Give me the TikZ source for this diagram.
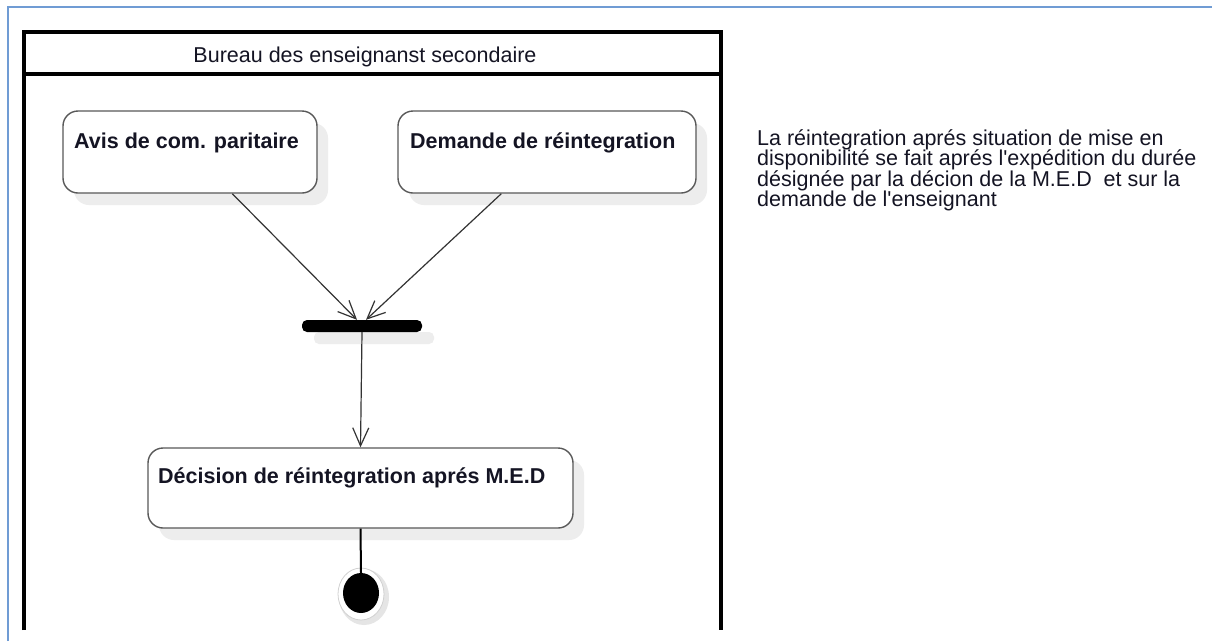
\documentclass[tikz,border=0pt]{standalone}
\usepackage{fontspec}
\setmainfont{Liberation Sans}[Ligatures=TeXOff]
\usetikzlibrary{arrows.meta,shadows,shapes.geometric,calc}
\definecolor{frameblue}{RGB}{112,156,212}
\definecolor{txt}{RGB}{20,20,35}
\begin{document}
\begin{tikzpicture}[x=1pt,y=-1pt,
  act/.style={draw=black!65, line width=1.4pt, rounded corners=15pt, fill=white, inner sep=0pt,
    drop shadow={shadow xshift=11pt, shadow yshift=-12pt, fill=black!7, opacity=1}},
  lbl/.style={inner sep=0pt, anchor=base west, text=txt, font=\fontsize{21.5}{24}\selectfont\bfseries},
  flow/.style={draw=black!80, line width=1.2pt, -{Straight Barb[length=18pt,width=16pt,line width=1.2pt]}},
  pool/.style={draw=black, line width=4.5pt},
  barstyle/.style={fill=black, rounded corners=5pt, minimum width=120pt, minimum height=12pt, inner sep=0pt,
    drop shadow={shadow xshift=12pt, shadow yshift=-12pt, fill=black!7, opacity=1}},
]
\useasboundingbox (0,0) rectangle (1212,641);
\fill[white] (0,0) rectangle (1212,641);
% outer blue frame
\draw[frameblue, line width=2.5pt] (8,641) -- (8,7) -- (1212,7);
% swimlane
\draw[pool] (24,630) -- (24,32) -- (721,32) -- (721,630);
\draw[pool] (24,74) -- (721,74);
\node[inner sep=0pt, anchor=base, text=txt, font=\fontsize{21.5}{24}\selectfont] (head) at (365,62) {Bureau des enseignanst secondaire};
% activities
\node[act, minimum width=254pt, minimum height=82pt] (A) at (190,152) {};
\node[act, minimum width=298pt, minimum height=82pt] (B) at (547,152) {};
\node[act, minimum width=425pt, minimum height=80pt] (C) at (360.5,488) {};
\node[lbl] (Alabel) at (74,148) {Avis de com. paritaire};
\node[lbl] (Blabel) at (410,148) {Demande de réintegration};
\node[lbl] (Clabel) at (158,483) {Décision de réintegration aprés M.E.D};
% fork bar
\node[barstyle] (bar) at (362,326) {};
% final node
\fill[black!10] (364,597) ellipse [x radius=25, y radius=28];
\draw[black!18, line width=0.8pt, fill=white] (361,594) ellipse [x radius=23, y radius=26];
\node[ellipse, fill=black, minimum width=36pt, minimum height=40pt, inner sep=0pt] (end) at (361,593) {};
% connectors
\draw[flow] ($(A.south west)+(170,0)$) -- ($(bar.north)+(-5,0)$);
\draw[flow] ($(B.south west)+(104,0)$) -- ($(bar.north)+(4,0)$);
\draw[flow] (bar.south) -- (C.north);
\draw[black, line width=2pt] (C.south) -- (end.north);
% note
\node[inner sep=0pt, anchor=base west, text=txt] (note) at (757,145) {\parbox[t]{470pt}{\fontsize{21.5}{20.5}\selectfont
La réintegration aprés situation de mise en\\
disponibilité se fait aprés l'expédition du durée\\
désignée par la décion de la M.E.D~ et sur la\\
demande de l'enseignant}};
\end{tikzpicture}
\end{document}
